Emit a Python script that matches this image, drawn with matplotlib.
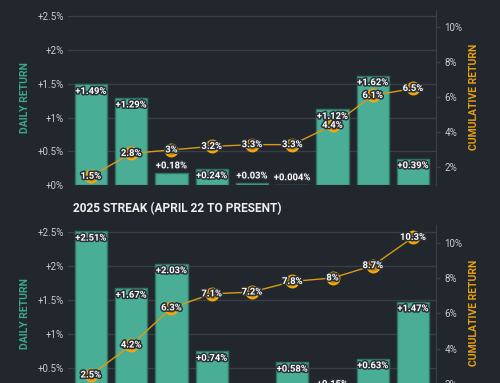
import matplotlib
matplotlib.use("Agg")
import matplotlib.pyplot as plt
import matplotlib.patheffects as pe
from matplotlib import font_manager

# ---- data ----
days = list(range(9))
daily_2024 = [1.49, 1.29, 0.18, 0.24, 0.03, 0.004, 1.12, 1.62, 0.39]
daily_2024_labels = ["+1.49%", "+1.29%", "+0.18%", "+0.24%", "+0.03%", "+0.004%", "+1.12%", "+1.62%", "+0.39%"]
cum_2024 = [1.5, 2.8, 3.0, 3.2, 3.3, 3.3, 4.4, 6.1, 6.5]
cum_2024_labels = ["1.5%", "2.8%", "3%", "3.2%", "3.3%", "3.3%", "4.4%", "6.1%", "6.5%"]

daily_2025 = [2.51, 1.67, 2.03, 0.74, 0.06, 0.58, 0.15, 0.63, 1.47]
daily_2025_labels = ["+2.51%", "+1.67%", "+2.03%", "+0.74%", "+0.06%", "+0.58%", "+0.15%", "+0.63%", "+1.47%"]
cum_2025 = [2.5, 4.2, 6.3, 7.1, 7.2, 7.8, 8.0, 8.7, 10.3]
cum_2025_labels = ["2.5%", "4.2%", "6.3%", "7.1%", "7.2%", "7.8%", "8%", "8.7%", "10.3%"]

left_ticks = [0, 0.5, 1, 1.5, 2, 2.5]
left_ticklabels = ["+0%", "+0.5%", "+1%", "+1.5%", "+2%", "+2.5%"]
right_ticks = [2, 4, 6, 8, 10]
right_ticklabels = ["2%", "4%", "6%", "8%", "10%"]

title_2025 = "2025 STREAK (APRIL 22 TO PRESENT)"

# ---- style ----
names = {f.name for f in font_manager.fontManager.ttflist}
FONT = "Liberation Sans Narrow" if "Liberation Sans Narrow" in names else "Roboto"
plt.rcParams["font.family"] = [FONT, "DejaVu Sans"]

BG = "#22272e"
GRID = "#3a3f47"
BAR = "#4aae96"
BAR_EDGE = "#2f7565"
TEAL = "#3fa88f"
ORANGE = "#e8a00f"
TICK = "#c9ccd0"
stroke = [pe.withStroke(linewidth=2.2, foreground="#2a2f36")]

W, H = 500, 383
fig = plt.figure(figsize=(W / 100, H / 100), dpi=100, facecolor=BG)


def make_panel(top_px, bottom_px, daily, dlabels, cum, clabels):
    left_px, right_px = 68, 436
    ax = fig.add_axes([left_px / W, (H - bottom_px) / H,
                       (right_px - left_px) / W, (bottom_px - top_px) / H])
    ax.set_facecolor(BG)
    ax.set_xlim(-0.57, 8.57)
    ax.set_ylim(0, 2.6)
    ax.set_yticks(left_ticks)
    ax.set_yticklabels(left_ticklabels)
    ax.tick_params(axis="y", length=0, pad=3, labelsize=7, labelcolor=TICK)
    ax.set_xticks([])
    ax.grid(axis="y", color=GRID, lw=1)
    ax.set_axisbelow(True)
    for s in ax.spines.values():
        s.set_visible(False)
    ax.bar(days, daily, width=0.8, color=BAR, edgecolor=BAR_EDGE, lw=1, zorder=2)
    ax.set_ylabel("DAILY RETURN", color=TEAL, fontsize=7.5, fontweight="bold")
    ax.yaxis.set_label_coords(-0.103, 0.5)

    ax2 = ax.twinx()
    ax2.set_ylim(1, 11)
    ax2.set_yticks(right_ticks)
    ax2.set_yticklabels(right_ticklabels)
    ax2.tick_params(axis="y", length=3, width=1, color=GRID, pad=3, labelsize=7, labelcolor=TICK)
    for k, s in ax2.spines.items():
        s.set_visible(k == "right")
    ax2.spines["right"].set_color(GRID)
    ax2.set_ylabel("CUMULATIVE RETURN", color=ORANGE, fontsize=7.5, fontweight="bold")
    ax2.yaxis.set_label_coords(1.09, 0.5)
    ax2.plot(days, cum, color="#dc9a14", lw=1, marker="o", ms=8.5,
             mfc="#c8880c", mec="#f5a80f", mew=1.5, zorder=3)

    px_per_unit = (bottom_px - top_px) / 2.6
    off = 7 / px_per_unit
    for x, v, lab in zip(days, daily, dlabels):
        y = v - off if v >= 0.2 else v + off
        ax2.text(x, y, lab, transform=ax.transData, ha="center", va="center",
                 color="white", fontsize=6.8, fontweight="bold", path_effects=stroke, zorder=5)
    for x, c, lab in zip(days, cum, clabels):
        ax2.text(x, c, lab, ha="center", va="center", color="white",
                 fontsize=6.8, fontweight="bold", path_effects=stroke, zorder=6)
    return ax


make_panel(9.5, 185, daily_2024, daily_2024_labels, cum_2024, cum_2024_labels)
make_panel(225, 401.5, daily_2025, daily_2025_labels, cum_2025, cum_2025_labels)

fig.text(73 / W, (H - 209) / H, title_2025, ha="left", va="center",
         color="#eeeeee", fontsize=8.6, fontweight="bold")

fig.savefig("out.png", dpi=100, facecolor=BG)
